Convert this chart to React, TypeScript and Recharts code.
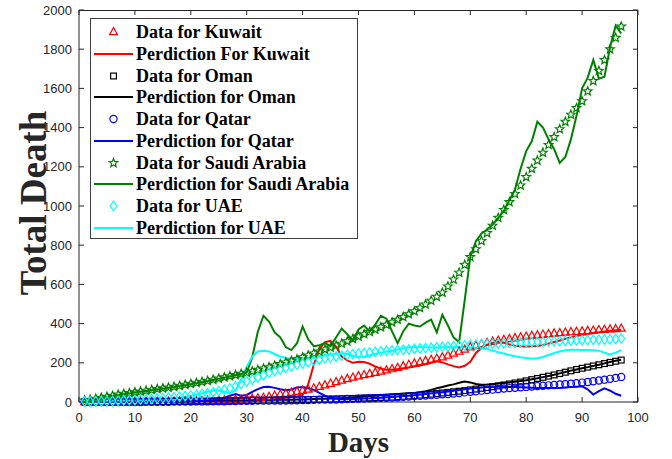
import React from 'react';
import { ComposedChart, Line, XAxis, YAxis, Legend } from 'recharts';

const days = Array.from({ length: 97 }, (_, i) => i + 1);

const kuwaitData = [
  0, 0, 0, 0, 0, 0, 0, 1, 1, 1,
  1, 1, 1, 1, 1, 2, 3, 3, 4, 5,
  5, 6, 7, 8, 9, 9, 10, 11, 13, 14,
  16, 19, 22, 27, 33, 38, 43, 48, 53, 58,
  64, 70, 78, 86, 94, 102, 110, 118, 125, 132,
  138, 144, 150, 156, 162, 168, 175, 183, 190, 197,
  204, 210, 216, 222, 229, 238, 248, 258, 268, 280,
  288, 296, 302, 308, 314, 318, 322, 326, 330, 334,
  338, 341, 344, 347, 350, 352, 355, 357, 359, 361,
  363, 365, 367, 369, 371, 373, 375,
];
const kuwaitPred = [
  0, 0, 0, 0, 0, 0, 0, 0, 0, 0,
  1, 1, 1, 2, 2, 2, 3, 3, 4, 5,
  6, 7, 8, 9, 10, 12, 14, 16, 19, 22,
  25, 21, 16, 12, 14, 19, 22, 25, 28, 35,
  90, 190, 270, 305, 312, 282, 232, 212, 200, 205,
  204, 195, 181, 170, 165, 165, 168, 172, 176, 181,
  186, 192, 200, 208, 202, 192, 183, 176, 185, 205,
  250, 276, 292, 302, 308, 302, 293, 287, 284, 283,
  284, 286, 291, 298, 306, 314, 322, 330, 336, 342,
  347, 352, 356, 360, 363, 366, 368,
];
const omanData = [
  0, 0, 0, 0, 0, 0, 1, 1, 1, 1,
  1, 2, 2, 2, 2, 2, 3, 3, 3, 3,
  4, 4, 4, 4, 5, 5, 6, 6, 7, 7,
  8, 8, 9, 9, 10, 10, 10, 11, 11, 12,
  12, 13, 13, 14, 14, 15, 16, 17, 18, 19,
  20, 21, 22, 23, 24, 25, 27, 29, 31, 33,
  35, 37, 40, 43, 46, 49, 52, 55, 58, 62,
  66, 70, 74, 78, 82, 87, 92, 97, 102, 108,
  114, 120, 126, 132, 138, 145, 152, 159, 166, 172,
  178, 184, 190, 196, 202, 208, 214,
];
const omanPred = [
  0, 0, 0, 0, 0, 1, 1, 1, 1, 1,
  2, 2, 2, 2, 3, 3, 3, 3, 4, 4,
  4, 5, 5, 5, 6, 6, 7, 7, 8, 8,
  9, 9, 10, 10, 11, 11, 12, 12, 13, 13,
  14, 15, 16, 17, 18, 19, 20, 22, 24, 26,
  28, 30, 32, 34, 36, 38, 40, 42, 44, 46,
  50, 55, 62, 70, 77, 84, 90, 98, 105, 100,
  92, 88, 89, 91, 94, 97, 100, 103, 107, 111,
  116, 121, 127, 133, 139, 146, 153, 160, 166, 172,
  178, 184, 190, 197, 204, 210, 216,
];
const qatarData = [
  0, 0, 0, 0, 0, 0, 0, 0, 0, 0,
  0, 1, 1, 1, 1, 1, 2, 2, 2, 2,
  3, 3, 3, 4, 4, 4, 5, 5, 6, 6,
  6, 7, 7, 7, 8, 8, 8, 9, 9, 10,
  10, 11, 12, 12, 13, 13, 14, 15, 16, 17,
  18, 19, 20, 21, 22, 23, 24, 26, 28, 30,
  32, 33, 35, 37, 39, 41, 43, 46, 49, 52,
  55, 58, 61, 63, 66, 69, 71, 73, 75, 77,
  79, 81, 83, 85, 87, 89, 91, 93, 96, 99,
  102, 106, 110, 114, 118, 123, 128,
];
const qatarPred = [
  0, 0, 0, 0, 0, 0, 0, 0, 0, 1,
  1, 1, 1, 2, 2, 2, 3, 3, 4, 4,
  5, 6, 8, 10, 15, 22, 32, 40, 32, 36,
  52, 66, 76, 78, 72, 65, 60, 64, 74, 76,
  70, 62, 46, 32, 22, 16, 14, 14, 15, 16,
  18, 19, 21, 22, 24, 26, 28, 30, 32, 35,
  38, 41, 44, 47, 50, 53, 57, 61, 65, 69,
  72, 74, 76, 77, 78, 78, 77, 76, 75, 74,
  73, 72, 71, 71, 71, 72, 74, 76, 78, 80,
  65, 38, 55, 70, 58, 42, 32,
];
const saudiData = [
  8, 12, 17, 22, 27, 32, 38, 42, 46, 50,
  54, 58, 62, 66, 70, 74, 78, 83, 88, 93,
  98, 103, 108, 114, 120, 126, 132, 138, 144, 150,
  157, 164, 171, 178, 186, 194, 202, 210, 218, 228,
  238, 248, 258, 268, 278, 288, 298, 310, 322, 334,
  346, 358, 370, 382, 394, 407, 420, 434, 448, 463,
  480, 498, 517, 537, 558, 590, 625, 660, 700, 740,
  780, 822, 862, 900, 940, 980, 1020, 1062, 1105, 1148,
  1190, 1232, 1272, 1312, 1352, 1392, 1430, 1466, 1500, 1535,
  1585, 1638, 1690, 1745, 1800, 1858, 1916,
];
const saudiPred = [
  6, 10, 15, 20, 25, 30, 35, 40, 44, 48,
  52, 56, 60, 64, 68, 72, 76, 81, 86, 91,
  96, 101, 106, 112, 118, 124, 130, 136, 142, 150,
  230, 360, 440, 410, 355, 330, 280, 265, 300, 385,
  320, 285, 290, 300, 285, 330, 375, 345, 315, 370,
  390, 360, 395, 440, 425, 360, 300, 360, 400, 390,
  385, 405, 420, 355, 445, 390, 330, 305, 520, 740,
  820, 860, 880, 905, 940, 975, 1030, 1085, 1190, 1280,
  1330, 1430, 1400, 1340, 1290, 1220, 1250, 1340, 1460, 1600,
  1655, 1745, 1650, 1660, 1810, 1920, 1880,
];
const uaeData = [
  2, 2, 3, 3, 4, 5, 6, 8, 9, 10,
  12, 14, 16, 18, 20, 22, 24, 27, 30, 33,
  37, 41, 45, 50, 56, 63, 70, 80, 92, 105,
  115, 126, 137, 148, 158, 166, 174, 182, 190, 197,
  204, 210, 216, 222, 227, 232, 236, 240, 244, 247,
  250, 253, 256, 259, 261, 263, 265, 267, 269, 271,
  273, 275, 277, 279, 281, 283, 285, 287, 289, 291,
  292, 294, 295, 297, 298, 300, 301, 302, 304, 305,
  306, 307, 308, 309, 310, 311, 312, 313, 314, 315,
  316, 317, 318, 319, 320, 322, 324,
];
const uaePred = [
  0, 1, 1, 2, 2, 3, 4, 5, 6, 7,
  8, 10, 11, 13, 15, 17, 20, 23, 27, 32,
  38, 45, 52, 58, 60, 52, 44, 60, 110, 180,
  232, 258, 262, 258, 245, 232, 225, 222, 222, 222,
  223, 226, 232, 238, 242, 246, 248, 245, 236, 228,
  230, 238, 246, 252, 258, 262, 268, 274, 278, 280,
  280, 279, 278, 278, 279, 280, 281, 281, 280, 278,
  276, 273, 270, 262, 254, 247, 240, 233, 228, 224,
  222, 223, 230, 240, 250, 258, 264, 266, 266, 265,
  265, 264, 262, 252, 242, 252, 265,
];

const xTicks = [0, 10, 20, 30, 40, 50, 60, 70, 80, 90, 100];
const yTicks = [0, 200, 400, 600, 800, 1000, 1200, 1400, 1600, 1800, 2000];
const xDomain = [0, 100];
const yDomain = [0, 2000];

const legendLabels = [
  'Data for Kuwait',
  'Perdiction For Kuwait',
  'Data for Oman',
  'Perdiction for Oman',
  'Data for Qatar',
  'Perdiction for Qatar',
  'Data for Saudi Arabia',
  'Perdiction for Saudi Arabia',
  'Data for UAE',
  'Perdiction for UAE',
];

const RED = '#FF0000';
const BLACK = '#000000';
const BLUE = '#0000FF';
const GREEN = '#008000';
const CYAN = '#00FFFF';
const AXIS = '#262626';

const W = 672;
const H = 459;
const MARGIN = { top: 10, right: 34, bottom: 0, left: 0 };
const Y_AXIS_W = 79;
const X_AXIS_H = 57;
const PLOT = {
  left: MARGIN.left + Y_AXIS_W,
  top: MARGIN.top,
  right: W - MARGIN.right,
  bottom: H - MARGIN.bottom - X_AXIS_H,
};

const rows = days.map((d, i) => ({
  day: d,
  kuwaitData: kuwaitData[i],
  kuwaitPred: kuwaitPred[i],
  omanData: omanData[i],
  omanPred: omanPred[i],
  qatarData: qatarData[i],
  qatarPred: qatarPred[i],
  saudiData: saudiData[i],
  saudiPred: saudiPred[i],
  uaeData: uaeData[i],
  uaePred: uaePred[i],
}));

type M = { cx: number; cy: number; color: string };

const TriangleM = ({ cx, cy, color }: M) => (
  <polygon
    points={`${cx},${cy - 4.5} ${cx - 3.9},${cy + 2.7} ${cx + 3.9},${cy + 2.7}`}
    fill="none"
    stroke={color}
    strokeWidth={1.2}
  />
);
const SquareM = ({ cx, cy, color }: M) => (
  <rect x={cx - 2.9} y={cy - 2.9} width={5.8} height={5.8} fill="none" stroke={color} strokeWidth={1.2} />
);
const CircleM = ({ cx, cy, color }: M) => (
  <circle cx={cx} cy={cy} r={3.6} fill="none" stroke={color} strokeWidth={1.2} />
);
const StarM = ({ cx, cy, color }: M) => {
  const pts: string[] = [];
  for (let k = 0; k < 10; k++) {
    const r = k % 2 === 0 ? 4.5 : 2.0;
    const a = -Math.PI / 2 + (k * Math.PI) / 5;
    pts.push(`${cx + r * Math.cos(a)},${cy + r * Math.sin(a)}`);
  }
  return <polygon points={pts.join(' ')} fill="none" stroke={color} strokeWidth={1.2} />;
};
const DiamondM = ({ cx, cy, color }: M) => (
  <polygon
    points={`${cx},${cy - 4.8} ${cx + 3.3},${cy} ${cx},${cy + 4.8} ${cx - 3.3},${cy}`}
    fill="none"
    stroke={color}
    strokeWidth={1.2}
  />
);

const markerFor = (Comp: any, color: string) => (p: any) => {
  if (p.cx == null || p.cy == null) return <g key={p.index} />;
  return <Comp key={p.index} cx={p.cx} cy={p.cy} color={color} />;
};

const legendItems = [
  { kind: 'marker', Comp: TriangleM, color: RED },
  { kind: 'line', color: RED },
  { kind: 'marker', Comp: SquareM, color: BLACK },
  { kind: 'line', color: BLACK },
  { kind: 'marker', Comp: CircleM, color: BLUE },
  { kind: 'line', color: BLUE },
  { kind: 'marker', Comp: StarM, color: GREEN },
  { kind: 'line', color: GREEN },
  { kind: 'marker', Comp: DiamondM, color: CYAN },
  { kind: 'line', color: CYAN },
];

const renderLegend = () => (
  <div
    style={{
      width: 268,
      height: 221,
      boxSizing: 'border-box',
      border: '1px solid #404040',
      background: '#ffffff',
      paddingTop: 2,
    }}
  >
    {legendItems.map((it: any, i) => (
      <div key={i} style={{ height: 21.8, display: 'flex', alignItems: 'center' }}>
        <svg width={45} height={22} style={{ display: 'block', flex: 'none' }}>
          {it.kind === 'line' ? (
            <line x1={3} y1={11} x2={42} y2={11} stroke={it.color} strokeWidth={2} />
          ) : (
            <it.Comp cx={22.5} cy={11} color={it.color} />
          )}
        </svg>
        <span
          style={{
            fontFamily: '"Liberation Serif", "Times New Roman", serif',
            fontWeight: 'bold',
            fontSize: 18,
            color: '#000',
            whiteSpace: 'nowrap',
            lineHeight: '22px',
          }}
        >
          {legendLabels[i]}
        </span>
      </div>
    ))}
  </div>
);

const tickFont = { fill: AXIS, fontSize: 13, fontFamily: '"Liberation Sans", Arial, sans-serif' };

// Box frame (top and right edges) with inward ticks, as in MATLAB "box on"
const Frame = () => {
  const pw = PLOT.right - PLOT.left;
  const ph = PLOT.bottom - PLOT.top;
  return (
    <>
      <div
        style={{
          position: 'absolute',
          left: PLOT.left,
          top: PLOT.top,
          width: pw,
          height: ph,
          boxSizing: 'border-box',
          borderTop: `1px solid ${AXIS}`,
          borderRight: `1px solid ${AXIS}`,
          pointerEvents: 'none',
          zIndex: 5,
        }}
      />
      <svg
        width={W}
        height={H}
        style={{ position: 'absolute', left: 0, top: 0, pointerEvents: 'none', zIndex: 6 }}
      >
        <g stroke={AXIS} strokeWidth={1} fill="none">
          {xTicks.map((t) => {
            const x = PLOT.left + ((t - xDomain[0]) / (xDomain[1] - xDomain[0])) * pw;
            return <line key={`tx${t}`} x1={x} y1={PLOT.top} x2={x} y2={PLOT.top + 5} />;
          })}
          {yTicks.map((t) => {
            const y = PLOT.bottom - ((t - yDomain[0]) / (yDomain[1] - yDomain[0])) * ph;
            return <line key={`ty${t}`} x1={PLOT.right} y1={y} x2={PLOT.right - 5} y2={y} />;
          })}
        </g>
      </svg>
    </>
  );
};

export default function App() {
  return (
    <div style={{ position: 'absolute', left: 0, top: 0, width: W, height: H, background: '#fff' }}>
      <ComposedChart width={W} height={H} data={rows} margin={MARGIN}>
        <XAxis
          xAxisId="b"
          dataKey="day"
          type="number"
          domain={xDomain}
          ticks={xTicks}
          interval={0}
          orientation="bottom"
          height={X_AXIS_H}
          tickSize={-5}
          tickMargin={16}
          axisLine={{ stroke: AXIS, strokeWidth: 1 }}
          tickLine={{ stroke: AXIS, strokeWidth: 1 }}
          tick={tickFont}
          label={{
            content: (props: any) => {
              const vb = props.viewBox || { x: 79, y: 402, width: 559, height: 57 };
              return (
                <text
                  x={vb.x + vb.width / 2}
                  y={vb.y + 50}
                  textAnchor="middle"
                  fontFamily='"Liberation Serif", "Times New Roman", serif'
                  fontWeight="bold"
                  fontSize={29}
                  fill={AXIS}
                >
                  Days
                </text>
              );
            },
          }}
        />
        <YAxis
          yAxisId="l"
          type="number"
          domain={yDomain}
          ticks={yTicks}
          interval={0}
          orientation="left"
          width={Y_AXIS_W}
          tickSize={-5}
          tickMargin={12}
          axisLine={{ stroke: AXIS, strokeWidth: 1 }}
          tickLine={{ stroke: AXIS, strokeWidth: 1 }}
          tick={tickFont}
          label={{
            content: (props: any) => {
              const vb = props.viewBox || { x: 0, y: 10, width: 79, height: 392 };
              const cx = vb.x + 33;
              const cy = vb.y + vb.height / 2 - 3;
              return (
                <text
                  x={cx}
                  y={cy}
                  transform={`rotate(-90 ${cx} ${cy})`}
                  textAnchor="middle"
                  dominantBaseline="central"
                  fontFamily='"Liberation Serif", "Times New Roman", serif'
                  fontWeight="bold"
                  fontSize={37}
                  fill={AXIS}
                >
                  Total Death
                </text>
              );
            },
          }}
        />

        <Line xAxisId="b" yAxisId="l" dataKey="kuwaitData" stroke="none" dot={markerFor(TriangleM, RED)} activeDot={false} isAnimationActive={false} legendType="none" />
        <Line xAxisId="b" yAxisId="l" dataKey="kuwaitPred" stroke={RED} strokeWidth={2} dot={false} activeDot={false} isAnimationActive={false} legendType="none" />
        <Line xAxisId="b" yAxisId="l" dataKey="omanData" stroke="none" dot={markerFor(SquareM, BLACK)} activeDot={false} isAnimationActive={false} legendType="none" />
        <Line xAxisId="b" yAxisId="l" dataKey="omanPred" stroke={BLACK} strokeWidth={2} dot={false} activeDot={false} isAnimationActive={false} legendType="none" />
        <Line xAxisId="b" yAxisId="l" dataKey="qatarData" stroke="none" dot={markerFor(CircleM, BLUE)} activeDot={false} isAnimationActive={false} legendType="none" />
        <Line xAxisId="b" yAxisId="l" dataKey="qatarPred" stroke={BLUE} strokeWidth={2} dot={false} activeDot={false} isAnimationActive={false} legendType="none" />
        <Line xAxisId="b" yAxisId="l" dataKey="saudiData" stroke="none" dot={markerFor(StarM, GREEN)} activeDot={false} isAnimationActive={false} legendType="none" />
        <Line xAxisId="b" yAxisId="l" dataKey="saudiPred" stroke={GREEN} strokeWidth={2} dot={false} activeDot={false} isAnimationActive={false} legendType="none" />
        <Line xAxisId="b" yAxisId="l" dataKey="uaeData" stroke="none" dot={markerFor(DiamondM, CYAN)} activeDot={false} isAnimationActive={false} legendType="none" />
        <Line xAxisId="b" yAxisId="l" dataKey="uaePred" stroke={CYAN} strokeWidth={2} dot={false} activeDot={false} isAnimationActive={false} legendType="none" />

        <Legend
          layout="vertical"
          align="center"
          verticalAlign="middle"
          content={renderLegend}
          wrapperStyle={{ position: 'absolute', left: 90, top: 18, width: 268, height: 221 }}
        />
      </ComposedChart>
      <Frame />
    </div>
  );
}
